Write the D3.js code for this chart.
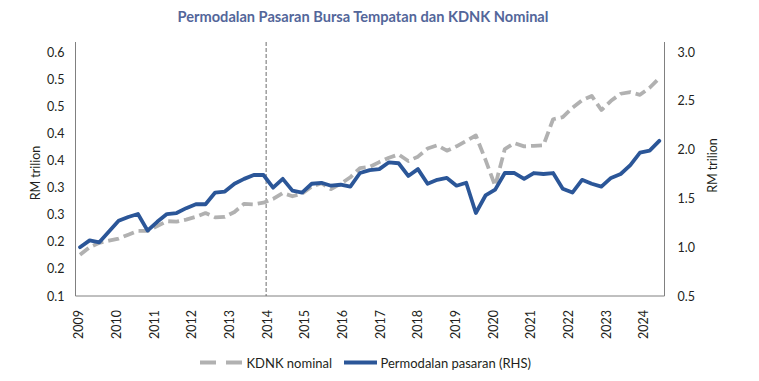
<!DOCTYPE html>
<html>
<head>
<meta charset="utf-8">
<script src="https://cdn.jsdelivr.net/npm/d3@7/dist/d3.min.js"></script>
<style>
  html, body { margin: 0; padding: 0; background: #fff; }
  svg { display: block; }
  text { font-family: Lato, "Noto Sans", sans-serif; }
</style>
</head>
<body>
<svg id="chart" width="759" height="381"></svg>
<script>
// ---- Data ----
const years = [2009, 2010, 2011, 2012, 2013, 2014, 2015, 2016, 2017, 2018, 2019, 2020, 2021, 2022, 2023, 2024];
const markerYear = 2014;

// KDNK nominal (LHS, RM trilion)
const kdnk = [0.176, 0.190, 0.198, 0.202, 0.206, 0.213, 0.220, 0.220, 0.229, 0.238,
              0.237, 0.241, 0.246, 0.253, 0.245, 0.246, 0.255, 0.270, 0.269, 0.272,
              0.279, 0.290, 0.284, 0.289, 0.302, 0.308, 0.297, 0.307, 0.319, 0.336,
              0.338, 0.347, 0.355, 0.361, 0.349, 0.357, 0.372, 0.378, 0.368, 0.376,
              0.386, 0.396, 0.351, 0.303, 0.371, 0.382, 0.376, 0.377, 0.378, 0.426,
              0.430, 0.447, 0.461, 0.469, 0.443, 0.460, 0.473, 0.476, 0.471, 0.484,
              0.502];

// Permodalan pasaran (RHS, RM trilion)
const pasaran = [1.00, 1.07, 1.05, 1.16, 1.27, 1.31, 1.34, 1.17, 1.26, 1.34,
                 1.35, 1.40, 1.44, 1.44, 1.56, 1.57, 1.65, 1.70, 1.74, 1.74,
                 1.61, 1.70, 1.58, 1.56, 1.65, 1.66, 1.63, 1.64, 1.62, 1.76,
                 1.79, 1.80, 1.87, 1.86, 1.73, 1.80, 1.65, 1.69, 1.71, 1.63,
                 1.66, 1.35, 1.53, 1.59, 1.76, 1.76, 1.70, 1.76, 1.75, 1.76,
                 1.60, 1.56, 1.69, 1.65, 1.62, 1.71, 1.75, 1.84, 1.97, 1.99,
                 2.09];

const leftTicks = [0.1, 0.15, 0.2, 0.25, 0.3, 0.35, 0.4, 0.45, 0.5, 0.55];
const leftTickLabels = ["0.1", "0.2", "0.2", "0.3", "0.3", "0.4", "0.4", "0.5", "0.5", "0.6"];
const rightTicks = [0.5, 1.0, 1.5, 2.0, 2.5, 3.0];

const titleText = "Permodalan Pasaran Bursa Tempatan dan KDNK Nominal";
const axisTitle = "RM trilion";
const legendLabels = ["KDNK nominal", "Permodalan pasaran (RHS)"];

// ---- Layout ----
const plotLeft = 75.5, plotRight = 664.5, plotTop = 42, plotBottom = 296;
const colBlue = "#2b5698", colGray = "#b1b1b1", axisCol = "#808080", textCol = "#231f20";

const svg = d3.select("#chart");

const idx = d3.range(kdnk.length);
const x = d3.scalePoint().domain(idx).range([80, 659.3]);
const xYear = d3.scaleLinear().domain([years[0], years[years.length - 1]]).range([78.3, 643.3]);
const yL = d3.scaleLinear().domain([0.1, 0.55]).range([plotBottom, 52]);
const yR = d3.scaleLinear().domain([0.5, 3.0]).range([plotBottom, 52]);

// Title
svg.append("text")
  .attr("x", 363).attr("y", 21.5)
  .attr("text-anchor", "middle")
  .attr("font-size", 14.6).attr("font-weight", "bold")
  .attr("fill", "#53669a")
  .text(titleText);

// Left axis labels
const gL = svg.append("g").attr("transform", `translate(${plotLeft},0)`)
  .call(d3.axisLeft(yL).tickValues(leftTicks).tickSize(0).tickPadding(11)
        .tickFormat((d, i) => leftTickLabels[i]));
gL.select(".domain").remove();
gL.selectAll("text").attr("font-size", 12.5).attr("fill", textCol).attr("font-family", "Lato, sans-serif");

// Right axis labels
const gR = svg.append("g").attr("transform", `translate(${plotRight},0)`)
  .call(d3.axisRight(yR).tickValues(rightTicks).tickSize(0).tickPadding(13)
        .tickFormat(d3.format(".1f")));
gR.select(".domain").remove();
gR.selectAll("text").attr("font-size", 12.5).attr("fill", textCol).attr("font-family", "Lato, sans-serif");

// Bottom axis (year labels, rotated)
const gB = svg.append("g").attr("transform", `translate(0,${plotBottom})`)
  .call(d3.axisBottom(xYear).tickValues(years).tickSize(0).tickFormat(d3.format("d")));
gB.select(".domain").remove();
gB.selectAll("text")
  .attr("font-size", 12.5).attr("fill", textCol).attr("font-family", "Lato, sans-serif")
  .attr("text-anchor", "end")
  .attr("dy", null)
  .attr("y", 0)
  .attr("transform", "translate(0,14) rotate(-90)")
  .attr("x", 0)
  .attr("dominant-baseline", "central");

// Axis lines
svg.append("line").attr("x1", plotLeft).attr("x2", plotLeft).attr("y1", plotTop).attr("y2", plotBottom)
  .attr("stroke", axisCol).attr("stroke-width", 1);
svg.append("line").attr("x1", plotRight).attr("x2", plotRight).attr("y1", plotTop).attr("y2", plotBottom)
  .attr("stroke", axisCol).attr("stroke-width", 1);
svg.append("line").attr("x1", plotLeft).attr("x2", plotRight).attr("y1", plotBottom).attr("y2", plotBottom)
  .attr("stroke", axisCol).attr("stroke-width", 1);

// Vertical dashed marker at 2014
svg.append("line")
  .attr("x1", xYear(markerYear) - 0.5).attr("x2", xYear(markerYear) - 0.5)
  .attr("y1", plotTop).attr("y2", plotBottom)
  .attr("stroke", "#6d6d6d").attr("stroke-width", 1).attr("stroke-dasharray", "4,2");

// Axis titles
svg.append("text")
  .attr("transform", `translate(40,173) rotate(-90)`)
  .attr("text-anchor", "middle")
  .attr("font-size", 12.5).attr("fill", textCol)
  .text(axisTitle);
svg.append("text")
  .attr("transform", `translate(717,165.5) rotate(-90)`)
  .attr("text-anchor", "middle")
  .attr("font-size", 12.5).attr("fill", textCol)
  .text(axisTitle);

// Lines
const lineL = d3.line().x((d, i) => x(i)).y(d => yL(d));
const lineR = d3.line().x((d, i) => x(i)).y(d => yR(d));

svg.append("path").datum(kdnk)
  .attr("d", lineL)
  .attr("fill", "none").attr("stroke", colGray).attr("stroke-width", 3.8)
  .attr("stroke-dasharray", "11,5").attr("stroke-linejoin", "round");

svg.append("path").datum(pasaran)
  .attr("d", lineR)
  .attr("fill", "none").attr("stroke", colBlue).attr("stroke-width", 3.8)
  .attr("stroke-linejoin", "round").attr("stroke-linecap", "round");

// Legend
const legY = 362.5;
svg.append("line").attr("x1", 200).attr("x2", 242).attr("y1", legY).attr("y2", legY)
  .attr("stroke", colGray).attr("stroke-width", 3.8).attr("stroke-dasharray", "16,10");
svg.append("text").attr("x", 246.5).attr("y", legY).attr("dominant-baseline", "central")
  .attr("font-size", 13).attr("fill", textCol).text(legendLabels[0]);
svg.append("line").attr("x1", 344).attr("x2", 377).attr("y1", legY).attr("y2", legY)
  .attr("stroke", colBlue).attr("stroke-width", 3.8);
svg.append("text").attr("x", 380.5).attr("y", legY).attr("dominant-baseline", "central")
  .attr("font-size", 13).attr("fill", textCol).text(legendLabels[1]);
</script>
</body>
</html>
